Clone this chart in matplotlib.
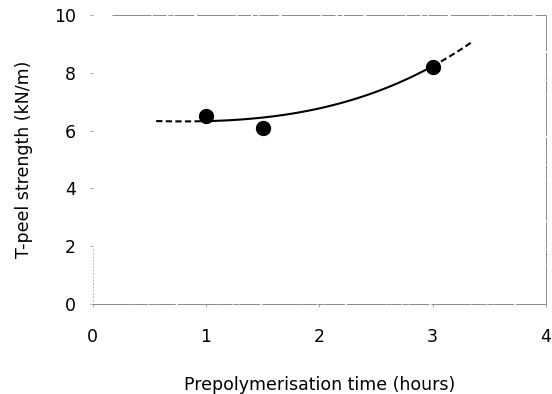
import matplotlib.pyplot as plt
import numpy as np

plt.rcParams["font.family"] = ["DejaVu Sans"]

# measured peel strengths
prepoly_time = [1.0, 1.5, 3.0]
peel_strength = [6.5, 6.1, 8.2]

# cubic trend in (x - trend_center), highest power first
trend_center = 0.8
trend_coeffs = [0.0822, 0.2138, 0.0, 6.32]
solid_range = (1.0, 3.0)
dashed_left = (0.56, 1.0)
dashed_right = (3.0, 3.36)

xticks = [0, 1, 2, 3, 4]
yticks = [0, 2, 4, 6, 8, 10]

fig = plt.figure(figsize=(5.52, 3.94), dpi=100)
ax = fig.add_axes([0.168, 0.228, 0.821, 0.734])

trend = np.poly1d(trend_coeffs)
for rng, dashed in [(solid_range, False), (dashed_left, True), (dashed_right, True)]:
    xs = np.linspace(rng[0], rng[1], 100)
    line, = ax.plot(xs, trend(xs - trend_center), color="black", lw=1.5)
    if dashed:
        line.set_dashes((3, 1.6))

ax.plot(prepoly_time, peel_strength, "o", color="black", ms=10, zorder=3)

ax.set_xlim(0, 4)
ax.set_ylim(0, 10)
ax.set_xticks(xticks)
ax.set_yticks(yticks)
ax.tick_params(axis="both", length=2, width=0.6, color="#999999", labelsize=12.5)
ax.tick_params(axis="x", pad=15)
ax.tick_params(axis="y", pad=10)

# faint, broken frame (scanned look)
frame_color = "#8a8a8a"
frame_style = (0, (40, 1.5, 14, 2, 5, 1.5, 20, 3))
for side in ["right", "bottom"]:
    ax.spines[side].set_color(frame_color)
    ax.spines[side].set_linewidth(0.7)
    ax.spines[side].set_linestyle(frame_style)
ax.spines["top"].set_visible(False)
ax.spines["left"].set_visible(False)
ax.plot([0.17, 4], [10, 10], color=frame_color, lw=0.7, ls=frame_style, clip_on=False)
ax.plot([0, 0], [0.1, 1.9], color="#aaaaaa", lw=0.6, ls=(0, (2, 2)), clip_on=False)

ax.set_xlabel("Prepolymerisation time (hours)", fontsize=12.5, labelpad=22)
ax.set_ylabel("T-peel strength (kN/m)", fontsize=12.5, labelpad=15)

fig.savefig("out.png", dpi=100)
